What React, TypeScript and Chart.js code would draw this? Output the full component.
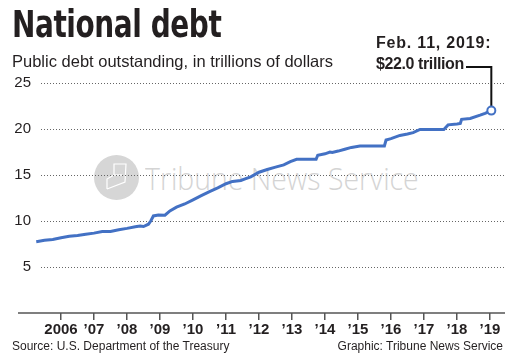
import React, { useEffect, useRef } from "react";
import { Chart, registerables } from "chart.js";

Chart.register(...registerables);

// Date as fractional year, value in trillions of dollars
const dates = [
  2005.25, 2005.5, 2005.75, 2006.0, 2006.25, 2006.5, 2006.75, 2007.0, 2007.25, 2007.5,
  2007.75, 2008.0, 2008.25, 2008.4, 2008.5, 2008.65, 2008.72, 2008.8, 2008.95, 2009.15,
  2009.3, 2009.5, 2009.75, 2010.0, 2010.25, 2010.5, 2010.75, 2011.0, 2011.2, 2011.45,
  2011.6, 2011.75, 2012.0, 2012.25, 2012.5, 2012.75, 2012.95, 2013.14, 2013.73, 2013.78,
  2014.0, 2014.15, 2014.22, 2014.4, 2014.6, 2014.8, 2015.06, 2015.8, 2015.85, 2016.0,
  2016.27, 2016.5, 2016.67, 2016.88, 2017.1, 2017.6, 2017.73, 2018.0, 2018.1, 2018.14,
  2018.4, 2018.7, 2018.85, 2019.04,
];
const debt = [
  7.75, 7.9, 8.0, 8.17, 8.35, 8.42, 8.55, 8.68, 8.85, 8.87,
  9.05, 9.2, 9.38, 9.45, 9.4, 9.65, 10.0, 10.55, 10.65, 10.63,
  11.1, 11.5, 11.85, 12.3, 12.75, 13.2, 13.6, 14.05, 14.3, 14.4,
  14.6, 14.8, 15.3, 15.6, 15.85, 16.1, 16.45, 16.7, 16.7, 17.15,
  17.3, 17.5, 17.45, 17.6, 17.8, 18.0, 18.15, 18.15, 18.8, 18.95,
  19.3, 19.45, 19.6, 19.95, 19.95, 19.95, 20.45, 20.55, 20.6, 21.05,
  21.15, 21.5, 21.7, 22.0,
];
const xTickValues = [2006, 2007, 2008, 2009, 2010, 2011, 2012, 2013, 2014, 2015, 2016, 2017, 2018, 2019];
const xTickLabels = ["2006", "\u201907", "\u201908", "\u201909", "\u201910", "\u201911", "\u201912", "\u201913", "\u201914", "\u201915", "\u201916", "\u201917", "\u201918", "\u201919"];
const yTickValues = [0, 5, 10, 15, 20, 25];

const BLUE = "#4371c4";
const INK = "#231f20";
const FONT = "'Liberation Sans', Arial, Helvetica, sans-serif";

export default function App() {
  const ref = useRef<HTMLCanvasElement | null>(null);

  useEffect(() => {
    if (!ref.current) return;
    const last = dates.length - 1;
    const axisLine = {
      id: "axisLine",
      afterDraw(chart: any) {
        const ctx = chart.ctx;
        const y = chart.scales.y.getPixelForValue(0);
        ctx.save();
        ctx.strokeStyle = "#555";
        ctx.lineWidth = 1.5;
        ctx.beginPath();
        ctx.moveTo(18, y);
        ctx.lineTo(chart.chartArea.right, y);
        ctx.stroke();
        ctx.restore();
      },
      beforeDatasetsDraw(chart: any) {
        const meta = chart.getDatasetMeta(0);
        const p = meta.data[meta.data.length - 1];
        if (!p) return;
        const ctx = chart.ctx;
        ctx.save();
        ctx.strokeStyle = "#111";
        ctx.lineWidth = 2;
        ctx.beginPath();
        ctx.moveTo(p.x, p.y);
        ctx.lineTo(p.x, 67);
        ctx.lineTo(466, 67);
        ctx.stroke();
        ctx.restore();
      },
    };
    const chart = new Chart(ref.current, {
      type: "line",
      data: {
        datasets: [
          {
            data: dates.map((d, i) => ({ x: d, y: debt[i] })),
            borderColor: BLUE,
            borderWidth: 3,
            tension: 0,
            clip: false as any,
            pointRadius: dates.map((_, i) => (i === last ? 4 : 0)),
            pointBackgroundColor: "#fff",
            pointBorderColor: BLUE,
            pointBorderWidth: 2,
          },
        ],
      },
      options: {
        animation: false,
        responsive: false,
        devicePixelRatio: 1,
        layout: { padding: { left: 14, right: 7, top: 83, bottom: 0 } },
        plugins: { legend: { display: false }, tooltip: { enabled: false } },
        scales: {
          x: {
            type: "linear",
            min: 2005.394,
            max: 2019.4545,
            afterBuildTicks: (s: any) => {
              s.ticks = xTickValues.map((v) => ({ value: v }));
            },
            afterFit: (s: any) => {
              s.height = 43;
            },
            ticks: {
              autoSkip: false,
              maxRotation: 0,
              padding: 1,
              color: INK,
              font: { family: FONT, size: 15, weight: "bold" },
              callback: (v: any) => {
                const i = xTickValues.indexOf(Number(v));
                return i >= 0 ? xTickLabels[i] : "";
              },
            },
            grid: { drawOnChartArea: false, drawTicks: true, tickLength: 7, color: "#555", lineWidth: 1.5 },
            border: { display: false },
          },
          y: {
            min: 0,
            max: 25,
            afterBuildTicks: (s: any) => {
              s.ticks = yTickValues.map((v) => ({ value: v }));
            },
            afterFit: (s: any) => {
              s.width = 27;
            },
            ticks: {
              padding: 10,
              color: INK,
              font: { family: FONT, size: 15 },
              callback: (v: any) => (Number(v) === 0 ? "" : String(v)),
            },
            grid: {
              drawTicks: false,
              color: (c: any) => (c.tick && c.tick.value === 0 ? "rgba(0,0,0,0)" : "#666"),
              lineWidth: 1,
            },
            border: { display: false, dash: [1, 2] },
          },
        },
      },
      plugins: [axisLine],
    });
    return () => chart.destroy();
  }, []);

  const text = (style: React.CSSProperties): React.CSSProperties => ({
    position: "absolute",
    whiteSpace: "nowrap",
    color: INK,
    fontFamily: FONT,
    lineHeight: 1,
    margin: 0,
    ...style,
  });

  return (
    <div style={{ position: "absolute", left: 0, top: 0, width: 512, height: 356, background: "#fff", overflow: "hidden" }}>
      <div
        style={{
          position: "absolute",
          left: 94,
          top: 155,
          width: 45,
          height: 45,
          borderRadius: "50%",
          background: "#d6d6d6",
        }}
      >
        <svg width="45" height="45" viewBox="0 0 45 45" style={{ position: "absolute", left: 0, top: 0 }}>
          <polyline points="13,34 13,24 20,20 20,9 32,9 31,27 13,34" fill="none" stroke="#fff" strokeWidth="1.2" />
          <polyline points="20,20 28,20" fill="none" stroke="#fff" strokeWidth="1.2" />
        </svg>
      </div>
      <div
        style={text({
          left: 145,
          top: 163,
          fontSize: 31,
          color: "#d4d4d4",
          fontFamily: "'Open Sans', 'Noto Sans', sans-serif",
          fontWeight: 300,
          transform: "scaleX(0.916)",
          transformOrigin: "left top",
        })}
      >
        Tribune News Service
      </div>
      <canvas ref={ref} width={512} height={356} style={{ position: "absolute", left: 0, top: 0, width: 512, height: 356 }} />
      <div
        style={text({
          left: 12,
          top: 6,
          fontSize: 37,
          fontWeight: 700,
          fontFamily: "'Liberation Sans Narrow', 'DejaVu Sans Condensed', 'Arial Narrow', sans-serif",
          letterSpacing: -0.5,
          transform: "scaleX(0.84)",
          transformOrigin: "left top",
        })}
      >
        National debt
      </div>
      <div style={text({ left: 12, top: 53, fontSize: 16.5 })}>Public debt outstanding, in trillions of dollars</div>
      <div style={text({ left: 376, top: 35, fontSize: 16, fontWeight: 700, letterSpacing: 0.8 })}>Feb. 11, 2019:</div>
      <div style={text({ left: 376, top: 56, fontSize: 16, fontWeight: 700, letterSpacing: -0.4 })}>$22.0 trillion</div>
      <div style={text({ left: 12, top: 340, fontSize: 12 })}>Source: U.S. Department of the Treasury</div>
      <div style={text({ right: 9, top: 340, fontSize: 12 })}>Graphic: Tribune News Service</div>
    </div>
  );
}
